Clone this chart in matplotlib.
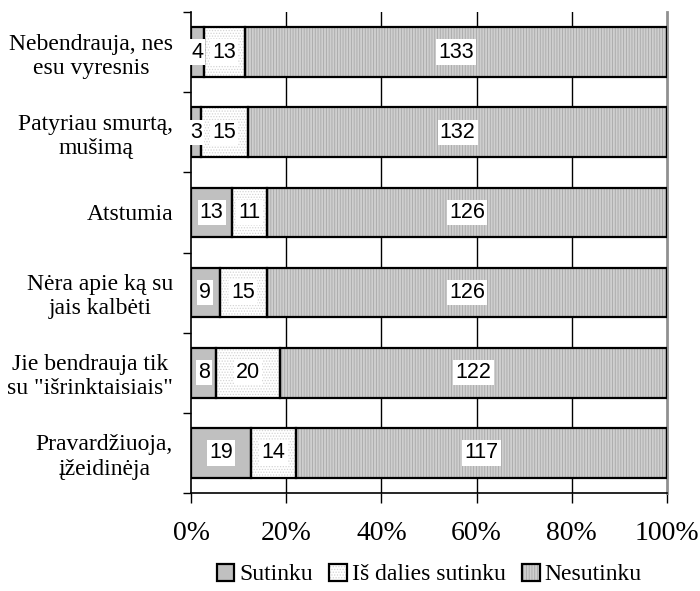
import matplotlib
matplotlib.use("Agg")
import matplotlib.pyplot as plt
import numpy as np
from matplotlib.patches import Patch

categories = ["Nebendrauja, nes\nesu vyresnis",
              "Patyriau smurtą,\nmušimą",
              "Atstumia",
              "Nėra apie ką su\njais kalbėti",
              "Jie bendrauja tik\nsu \"išrinktaisiais\"",
              "Pravardžiuoja,\nįžeidinėja"]
sutinku = [4, 3, 13, 9, 8, 19]
is_dalies = [13, 15, 11, 15, 20, 14]
nesutinku = [133, 132, 126, 126, 122, 117]
series_names = ["Sutinku", "Iš dalies sutinku", "Nesutinku"]
xtick_labels = ["0%", "20%", "40%", "60%", "80%", "100%"]

serif = ["Liberation Serif", "DejaVu Serif"]
sans = ["Liberation Sans", "DejaVu Sans"]

plt.rcParams["hatch.linewidth"] = 0.6

fig = plt.figure(figsize=(7, 5.91), dpi=100)
ax = fig.add_axes([191/700, 1-493/591, (667-191)/700, (493-12)/591])

data = np.array([sutinku, is_dalies, nesutinku], dtype=float)
totals = data.sum(axis=0)
pct = data / totals * 100
n = len(categories)
y = np.arange(n)
height = 0.62

styles = [
    dict(facecolor="#c0c0c0", hatch=None, hcolor=None),
    dict(facecolor="#ffffff", hatch="......", hcolor="#d4d4d4"),
    dict(facecolor="#cfcfcf", hatch="||||||", hcolor="#a8a8a8"),
]

left = np.zeros(n)
for i, st in enumerate(styles):
    if st["hatch"]:
        ax.barh(y, pct[i], left=left, height=height, color=st["facecolor"],
                edgecolor=st["hcolor"], hatch=st["hatch"], linewidth=0, zorder=3)
    else:
        ax.barh(y, pct[i], left=left, height=height, color=st["facecolor"],
                linewidth=0, zorder=3)
    ax.barh(y, pct[i], left=left, height=height, fill=False,
            edgecolor="black", linewidth=1.6, zorder=4)
    for j in range(n):
        cx = left[j] + pct[i][j] / 2
        ax.text(cx, y[j], f"{int(data[i][j])}", ha="center", va="center",
                fontsize=15.5, family=sans, zorder=5,
                bbox=dict(boxstyle="square,pad=0.1", facecolor="white",
                          edgecolor="none"))
    left = left + pct[i]

ax.set_xlim(0, 100)
ax.set_ylim(n - 0.5, -0.5)

for xv in [20, 40, 60, 80]:
    ax.axvline(xv, color="black", linewidth=1.0, zorder=1)

ax.spines["top"].set_visible(False)
ax.spines["right"].set_color("#909090")
ax.spines["right"].set_linewidth(2)
ax.spines["left"].set_linewidth(1.2)
ax.spines["bottom"].set_linewidth(1.2)

ax.set_xticks([0, 20, 40, 60, 80, 100])
ax.set_xticklabels(xtick_labels, family=serif, fontsize=20)
ax.tick_params(axis="x", direction="out", length=7, width=1, pad=13)

ax.set_yticks(np.arange(n + 1) - 0.5)
ax.set_yticklabels([])
ax.tick_params(axis="y", which="major", direction="out", length=6, width=1)
ax.set_yticks(y, minor=True)
ax.set_yticklabels(categories, minor=True, family=serif, fontsize=17)
ax.tick_params(axis="y", which="minor", length=0, pad=13)
for t in ax.get_yticklabels(minor=True):
    t.set_multialignment("center")
    t.set_linespacing(1.2)

outline = lambda: Patch(facecolor="none", edgecolor="black", linewidth=1.6)
handles = []
for st in styles:
    if st["hatch"]:
        inner = Patch(facecolor=st["facecolor"], edgecolor=st["hcolor"],
                      hatch=st["hatch"], linewidth=0)
    else:
        inner = Patch(facecolor=st["facecolor"], linewidth=0)
    handles.append((inner, outline()))

fig.legend(handles, series_names, loc="center", bbox_to_anchor=(0.613, 0.028),
           ncol=3, frameon=False, prop=dict(family=serif, size=17),
           handlelength=0.75, handleheight=0.75, handletextpad=0.2,
           columnspacing=0.7, borderaxespad=0, borderpad=0)

fig.savefig("out.png", dpi=100)
